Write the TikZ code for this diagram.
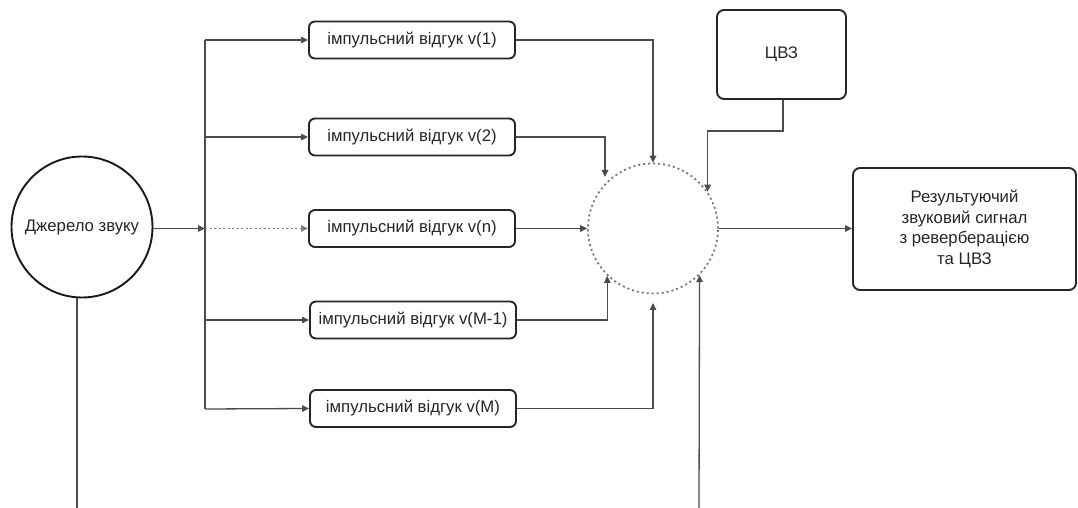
\documentclass[tikz,border=0pt]{standalone}
\usepackage{fontspec}
\setmainfont{Liberation Sans}
\usetikzlibrary{arrows.meta}
\tikzset{
  txt/.style={font=\fontsize{16.8}{20.5}\selectfont, text=black!85},
  irbox/.style={txt, draw=black!85, line width=1.9bp, rounded corners=6bp,
    minimum width=206bp, minimum height=37bp, inner sep=0pt},
  bigbox/.style={txt, draw=black!85, line width=1.9bp, rounded corners=7bp,
    inner sep=0pt, align=center},
  conn/.style={draw=black!70, line width=1.3bp},
  arr/.style={conn, -{Triangle[length=7bp,width=6.5bp]}},
  dotarr/.style={arr, dash pattern=on 2bp off 2.5bp, draw=black!50},
}
\begin{document}
\begin{tikzpicture}[x=1bp,y=-1bp]
\useasboundingbox[fill=white] (0,0) rectangle (1078,508);

% nodes
\node[txt, circle, draw=black!90, line width=1.9bp, minimum size=141bp, inner sep=0pt] (src) at (82,227) {Джерело звуку};
\node[irbox] (b1) at (412,40) {імпульсний відгук v(1)};
\node[irbox] (b2) at (412,137) {імпульсний відгук v(2)};
\node[irbox] (b3) at (412,228.5) {імпульсний відгук v(n)};
\node[irbox] (b4) at (413,320) {імпульсний відгук v(M-1)};
\node[irbox] (b5) at (413,408.5) {імпульсний відгук v(M)};
\node[circle, draw=black!55, line width=1.7bp, dash pattern=on 2bp off 3bp, minimum size=130bp, inner sep=0pt] (sum) at (653,228.5) {};
\node[bigbox, minimum width=129bp, minimum height=89bp] (cvz) at (781.5,54.5) {ЦВЗ};
\node[bigbox, minimum width=223bp, minimum height=122bp] (res) at (964.5,229)
  {Результуючий\\звуковий сигнал\\з реверберацією\\та ЦВЗ};

% coordinates
\coordinate (bustop) at (205,40);
\coordinate (busbot) at (205,409);
\coordinate (busmid) at (205,228.5);
\coordinate (srcend) at (77,508);
\coordinate (extin) at (699,508);
\coordinate (in2) at (605,177);
\coordinate (in5) at (653,303);
\coordinate (cvzturn) at (783,131);

% source to bus
\draw[conn] (srcend) -- (srcend |- src.south);
\draw[arr] (src.east |- busmid) -- (busmid);
\draw[conn] (bustop) -- (busbot);

% bus to boxes
\draw[arr] (bustop) -- (b1.west);
\draw[arr] (bustop |- b2) -- (b2.west);
\draw[dotarr] (busmid) -- (b3.west);
\draw[arr] (bustop |- b4) -- (b4.west);
\draw[arr] (busbot) -- (b5.west);

% boxes to sum
\draw[arr] (b1.east) -| (sum.north);
\draw[arr] (b2.east) -| (in2);
\draw[arr] (b3.east) -- (sum.west);
\draw[arr] (b4.east) -| (sum.226);
\draw[arr] (b5.east) -| (in5);

% CVZ to sum
\draw[arr] (cvz.south -| cvzturn) -- (cvzturn) -| (sum.34);

% external input
\draw[arr] (extin) -- (sum.-45);

% output
\draw[arr] (sum.east) -- (res.west |- sum.east);
\end{tikzpicture}
\end{document}
